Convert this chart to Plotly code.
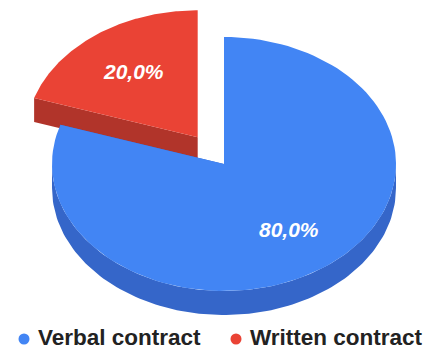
import numpy as np
import plotly.graph_objects as go

# Shares of respondents by contract type
categories = ["Verbal contract", "Written contract"]
values = [80.0, 20.0]
top_colors = ["#4285F4", "#EA4335"]
side_colors = ["#3566C9", "#B1342A"]
explode = [0.0, 0.26]

W, H = 432, 351
CX, CY = 224.0, 164.0      # centre of the pie's top face (px)
RX, RY = 172.0, 127.0      # ellipse radii of the tilted pie
DEPTH = 24.0               # thickness of the pie
LABEL_R = 0.64

# legend layout: marker x, text start x, row y
LEGEND_MARKER_X = [24, 236]
LEGEND_TEXT_X = [37, 249]
LEGEND_Y = 339


def pt(cx, cy, t, r=1.0, dz=0.0):
    """Point on the tilted disc; t is degrees clockwise from 12 o'clock."""
    a = np.radians(t)
    return cx + r * RX * np.sin(a), cy - r * RY * np.cos(a) + dz


def arc(cx, cy, t0, t1, dz=0.0, n=120):
    ts = np.linspace(t0, t1, n)
    xs, ys = pt(cx, cy, ts, 1.0, dz)
    return list(xs), list(ys)


total = sum(values)
starts = np.concatenate([[0.0], np.cumsum(values)[:-1]]) / total * 360.0
spans = np.array(values) / total * 360.0

fig = go.Figure()
slices = []
for i, (v, s, sp) in enumerate(zip(values, starts, spans)):
    mid = s + sp / 2
    a = np.radians(mid)
    cx = CX + explode[i] * RX * np.sin(a)
    cy = CY - explode[i] * RY * np.cos(a)
    slices.append((i, s, s + sp, mid, cx, cy))

# paint the back (exploded) slice first, then the main slice over it
order = sorted(slices, key=lambda q: -explode[q[0]])
for i, t0, t1, mid, cx, cy in order:
    # radial walls
    for te in (t0, t1):
        ex, ey = pt(cx, cy, te)
        xs = [cx, ex, ex, cx, cx]
        ys = [cy, ey, ey + DEPTH, cy + DEPTH, cy]
        fig.add_trace(go.Scatter(x=xs, y=ys, mode="lines", fill="toself",
                                 fillcolor=side_colors[i], line=dict(width=0),
                                 hoverinfo="skip", showlegend=False))
    # outer wall on the front half
    f0, f1 = max(t0, 90.0), min(t1, 270.0)
    if f1 > f0:
        tx, ty = arc(cx, cy, f0, f1)
        bx, by = arc(cx, cy, f0, f1, DEPTH)
        fig.add_trace(go.Scatter(x=tx + bx[::-1] + [tx[0]], y=ty + by[::-1] + [ty[0]],
                                 mode="lines", fill="toself",
                                 fillcolor=side_colors[i], line=dict(width=0),
                                 hoverinfo="skip", showlegend=False))
    # top face
    ax, ay = arc(cx, cy, t0, t1)
    fig.add_trace(go.Scatter(x=[cx] + ax + [cx], y=[cy] + ay + [cy],
                             mode="lines", fill="toself",
                             fillcolor=top_colors[i], line=dict(width=0),
                             hoverinfo="skip", showlegend=False))

# percentage labels
for i, t0, t1, mid, cx, cy in slices:
    lx, ly = pt(cx, cy, mid, LABEL_R)
    fig.add_annotation(x=lx, y=ly, text=f"{values[i] / total * 100:.1f}%".replace(".", ","),
                       showarrow=False, xanchor="center", yanchor="middle",
                       font=dict(family="Liberation Sans, Arial", size=21,
                                 color="white", weight="bold", style="italic"))

# legend row
fig.add_trace(go.Scatter(x=LEGEND_MARKER_X, y=[LEGEND_Y] * len(categories),
                         mode="markers", hoverinfo="skip", showlegend=False,
                         marker=dict(size=11, color=top_colors, symbol="circle")))
for name, tx in zip(categories, LEGEND_TEXT_X):
    fig.add_annotation(x=tx, y=H, text=name, showarrow=False,
                       xanchor="left", yanchor="bottom", borderpad=0,
                       font=dict(family="Liberation Sans, Arial", size=22.5,
                                 weight="bold", color="#222222"))

fig.update_layout(
    width=W, height=H,
    margin=dict(l=0, r=0, t=0, b=0),
    paper_bgcolor="white", plot_bgcolor="white",
    xaxis=dict(range=[0, W], visible=False, fixedrange=True),
    yaxis=dict(range=[H, 0], visible=False, fixedrange=True),
    showlegend=False,
)

fig.write_html("out.html")
